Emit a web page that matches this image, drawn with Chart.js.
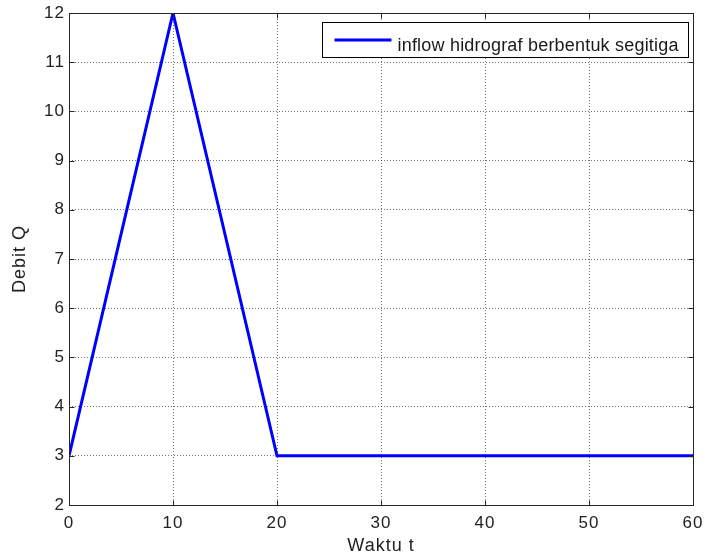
<!DOCTYPE html>
<html>
<head>
<meta charset="utf-8">
<script src="https://cdn.jsdelivr.net/npm/chart.js@4"></script>
<style>
  html, body { margin: 0; padding: 0; background: #fff; }
  canvas { display: block; }
</style>
</head>
<body>
<canvas id="c" width="705" height="557"></canvas>
<script>
const timeValues = [0, 10, 20, 60];
const debitValues = [3, 12, 3, 3];
const seriesLabel = 'inflow hidrograf berbentuk segitiga';
const xTitle = 'Waktu t';
const yTitle = 'Debit Q';
const xTicks = [0, 10, 20, 30, 40, 50, 60];
const yTicks = [2, 3, 4, 5, 6, 7, 8, 9, 10, 11, 12];

const FONT = 'Liberation Sans, Arial, Helvetica, sans-serif';
const FRAME = '#262626';

const spacingPlugin = {
  id: 'spacing',
  beforeDraw(chart) { chart.ctx.letterSpacing = '1px'; }
};

const framePlugin = {
  id: 'matlabFrame',
  afterDraw(chart) {
    const {ctx, chartArea: a, scales} = chart;
    const L = Math.round(a.left) + 0.5, R = Math.round(a.right) + 0.5;
    const T = Math.round(a.top) + 0.5, B = Math.round(a.bottom) + 0.5;
    ctx.save();
    ctx.strokeStyle = FRAME;
    ctx.lineWidth = 1;
    ctx.beginPath();
    ctx.rect(L, T, R - L, B - T);
    ctx.stroke();
    const tl = 5;
    ctx.beginPath();
    xTicks.forEach(v => {
      const x = Math.round(scales.x.getPixelForValue(v)) + 0.5;
      ctx.moveTo(x, B); ctx.lineTo(x, B - tl);
      ctx.moveTo(x, T); ctx.lineTo(x, T + tl);
    });
    yTicks.forEach(v => {
      const y = Math.round(scales.y.getPixelForValue(v)) + 0.5;
      ctx.moveTo(L, y); ctx.lineTo(L + tl, y);
      ctx.moveTo(R, y); ctx.lineTo(R - tl, y);
    });
    ctx.stroke();

    // legend
    const ds = chart.data.datasets[0];
    ctx.letterSpacing = '0.2px';
    ctx.font = '18px ' + FONT;
    const tw = ctx.measureText(ds.label).width;
    const boxR = Math.round(a.right) - 4.5;
    const boxW = Math.round(75 + tw + 10);
    const boxL = boxR - boxW;
    const boxT = Math.round(a.top) + 9.5;
    const boxH = 35;
    ctx.fillStyle = '#fff';
    ctx.fillRect(boxL, boxT, boxW, boxH);
    ctx.strokeStyle = '#000';
    ctx.strokeRect(boxL, boxT, boxW, boxH);
    ctx.strokeStyle = ds.borderColor;
    ctx.lineWidth = ds.borderWidth;
    ctx.beginPath();
    ctx.moveTo(boxL + 12, boxT + 17.5);
    ctx.lineTo(boxL + 69, boxT + 17.5);
    ctx.stroke();
    ctx.fillStyle = '#1a1a1a';
    ctx.textBaseline = 'alphabetic';
    ctx.textAlign = 'left';
    ctx.fillText(ds.label, boxL + 75, boxT + 28);
    ctx.restore();
  }
};

new Chart(document.getElementById('c'), {
  type: 'line',
  data: {
    datasets: [{
      label: seriesLabel,
      data: timeValues.map((t, i) => ({x: t, y: debitValues[i]})),
      borderColor: '#0000ff',
      backgroundColor: '#0000ff',
      borderWidth: 3,
      pointRadius: 0,
      tension: 0,
      fill: false
    }]
  },
  options: {
    responsive: false,
    animation: false,
    devicePixelRatio: 1,
    layout: { padding: { top: 13, right: 12, left: 0, bottom: 0 } },
    plugins: { legend: { display: false }, tooltip: { enabled: false } },
    scales: {
      x: {
        type: 'linear',
        min: 0, max: 60,
        afterFit(s) { s.height = 52; s.paddingLeft = 0; s.paddingRight = 0; },
        afterBuildTicks(s) { s.ticks = xTicks.map(v => ({value: v})); },
        ticks: { color: '#222', font: { family: FONT, size: 17 }, padding: 8, maxRotation: 0 },
        grid: { color: 'rgba(0,0,0,0.55)', lineWidth: 1, drawTicks: false },
        border: { display: false, dash: [1, 2] },
        title: { display: true, text: xTitle, color: '#222', font: { family: FONT, size: 18 }, padding: { top: 0, bottom: 0 } }
      },
      y: {
        type: 'linear',
        min: 2, max: 12,
        afterFit(s) { s.width = 69; s.paddingTop = 0; s.paddingBottom = 0; },
        afterBuildTicks(s) { s.ticks = yTicks.map(v => ({value: v})); },
        ticks: { color: '#222', font: { family: FONT, size: 17 }, padding: 4 },
        grid: { color: 'rgba(0,0,0,0.55)', lineWidth: 1, drawTicks: false },
        border: { display: false, dash: [1, 2] },
        title: { display: true, text: yTitle, color: '#222', font: { family: FONT, size: 18 }, padding: { top: 9, bottom: 0 } }
      }
    }
  },
  plugins: [spacingPlugin, framePlugin]
});
</script>
</body>
</html>
